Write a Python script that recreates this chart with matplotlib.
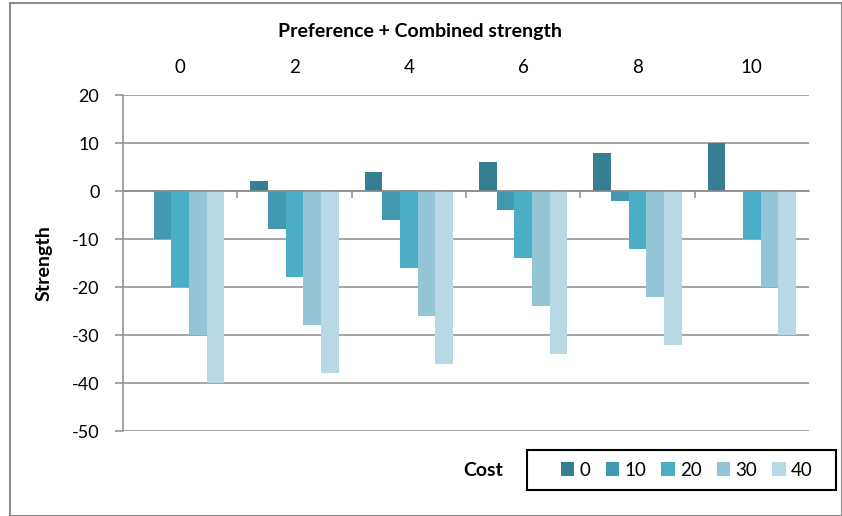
import matplotlib
matplotlib.use("Agg")
import matplotlib.pyplot as plt
import numpy as np
from matplotlib.patches import Rectangle

plt.rcParams['font.family'] = ['Lato', 'DejaVu Sans']
plt.rcParams['axes.unicode_minus'] = False

# Preference + combined strength categories
preferences = ["0", "2", "4", "6", "8", "10"]
# Cost series
costs = ["0", "10", "20", "30", "40"]
cost_0 = [0, 2, 4, 6, 8, 10]
cost_10 = [-10, -8, -6, -4, -2, 0]
cost_20 = [-20, -18, -16, -14, -12, -10]
cost_30 = [-30, -28, -26, -24, -22, -20]
cost_40 = [-40, -38, -36, -34, -32, -30]
series = [cost_0, cost_10, cost_20, cost_30, cost_40]
colors = ["#367F92", "#4298AF", "#4BADC6", "#93C5D6", "#B8D8E4"]
y_ticks = [20, 10, 0, -10, -20, -30, -40, -50]

fig = plt.figure(figsize=(8.42, 5.16), dpi=100)
W, H = 842, 516
ax = fig.add_axes([123 / W, 1 - 431 / H, (809 - 123) / W, (431 - 95) / H])

x = np.arange(len(preferences))
bw = 0.155
for i, (vals, c) in enumerate(zip(series, colors)):
    ax.bar(x + (i - 2) * bw, vals, width=bw, color=c, label=costs[i], zorder=3)

ax.set_xlim(-0.5, len(preferences) - 0.5)
ax.set_ylim(min(y_ticks), max(y_ticks))
ax.set_yticks(y_ticks)
ax.yaxis.grid(True, color="#8C8C8C", linewidth=1.1, zorder=0)
ax.tick_params(axis='y', length=6, width=1.1, color="#8C8C8C", labelsize=13, pad=11)

for s in ['top', 'right']:
    ax.spines[s].set_visible(False)
ax.spines['left'].set_color("#8C8C8C")
ax.spines['left'].set_linewidth(1.1)
ax.spines['bottom'].set_position(('data', 0))
ax.spines['bottom'].set_color("#8C8C8C")
ax.spines['bottom'].set_linewidth(1.1)
ax.spines['bottom'].set_zorder(4)
ax.set_xticks(np.arange(len(preferences) - 1) + 0.5)
ax.tick_params(axis='x', direction='out', length=5, width=1.1, color="#8C8C8C",
               labelbottom=False)

# category labels along the top
top = ax.secondary_xaxis('top')
top.set_xticks(x)
top.set_xticklabels(preferences)
top.tick_params(length=0, labelsize=13.5, pad=14)
top.spines['top'].set_visible(False)

fig.text(420 / W, 1 - 31 / H, "Preference + Combined strength", fontsize=14,
         fontweight='bold', ha='center', va='center')

ax.set_ylabel("Strength", fontsize=14, fontweight='bold', labelpad=14)

# legend with its own box
leg = fig.legend(loc='center', bbox_to_anchor=(687 / W, 1 - 470 / H),
                 ncol=5, fontsize=13.5, frameon=False,
                 handlelength=0.7, handleheight=0.7, handletextpad=0.3,
                 columnspacing=0.8, borderpad=0.0)
fig.patches.append(Rectangle((527 / W, 1 - 490 / H), (836 - 527) / W, 40 / H,
                             transform=fig.transFigure, fill=False,
                             edgecolor="black", linewidth=1.5))
fig.text(483 / W, 1 - 470 / H, "Cost", fontsize=14, fontweight='bold',
         ha='center', va='center')

# chart area border
fig.patches.append(Rectangle((10 / W, 0), 1 - 10 / W, 1 - 3 / H, transform=fig.transFigure,
                             fill=False, edgecolor="#8C8C8C", linewidth=1.5))

fig.savefig("out.png", dpi=100)
